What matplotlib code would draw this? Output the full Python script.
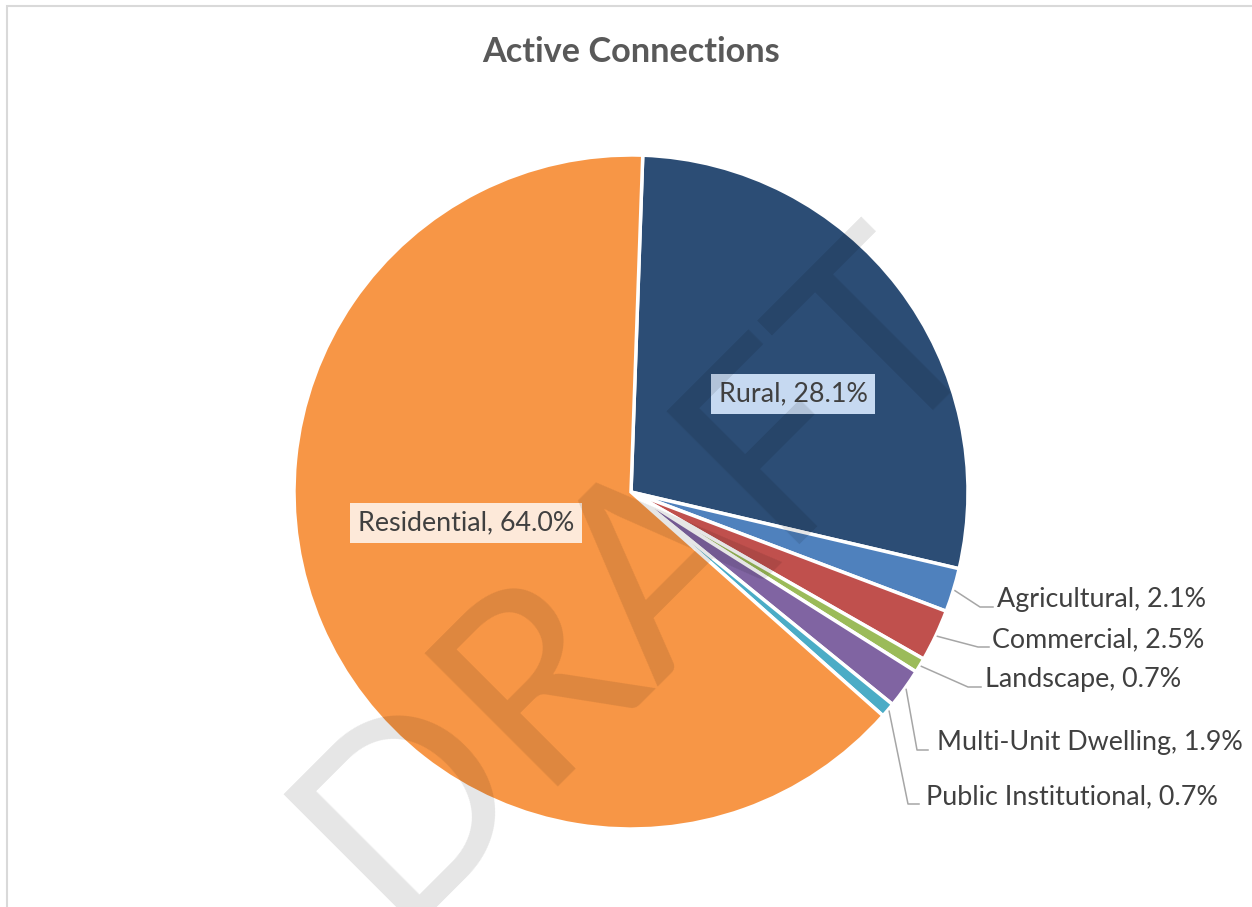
import matplotlib
matplotlib.use("Agg")
import matplotlib.pyplot as plt
from matplotlib.patches import Rectangle
from matplotlib.lines import Line2D
import numpy as np

plt.rcParams['font.family'] = ['Lato', 'DejaVu Sans']

# ---- data ----
categories = ['Rural', 'Agricultural', 'Commercial', 'Landscape',
              'Multi-Unit Dwelling', 'Public Institutional', 'Residential']
values = [28.1, 2.1, 2.5, 0.7, 1.9, 0.7, 64.0]
colors = ['#2c4d75', '#4f81bd', '#c0504d', '#9bbb59', '#8064a2', '#4bacc6', '#f79646']
title = 'Active Connections'
watermark = 'DRAFT'

W, H = 1252, 907
fig = plt.figure(figsize=(W / 100, H / 100), dpi=100)
fig.patch.set_facecolor('white')


def fx(x, y):
    return (x / W, 1 - y / H)


# chart border
fig.patches.append(Rectangle(fx(6.5, 920), (W + 20) / W, (920 - 6.5) / H,
                             transform=fig.transFigure, fill=False,
                             edgecolor='#d9d9d9', linewidth=1.5))

# pie axes
cx, cy, R = 631, 492, 337
ax = fig.add_axes([(cx - R) / W, (H - cy - R) / H, 2 * R / W, 2 * R / H])
wedges, _ = ax.pie(values, colors=colors, startangle=88, counterclock=False,
                   radius=1.0,
                   wedgeprops=dict(edgecolor='white', linewidth=2.5))
ax.set_xlim(-1, 1)
ax.set_ylim(-1, 1)
ax.set_aspect('equal')
ax.axis('off')

text_color = '#404040'
fs = 19.4

# title
fig.text(*fx(631, 62), title, ha='center', va='baseline', fontsize=24.7,
         fontweight='bold', color='#595959')

# inside labels (centre positions in px, background colours)
inside = {
    'Rural': ((793, 394), '#c6d9f1'),
    'Residential': ((466, 523), '#fde9d9'),
}
for cat, ((px_, py_), bg) in inside.items():
    i = categories.index(cat)
    fig.text(*fx(px_, py_), f"{cat}, {values[i]:.1f}%", ha='center', va='center',
             fontsize=fs, color=text_color,
             bbox=dict(boxstyle='square,pad=0.28', fc=bg, ec='none'))

# outside labels: elbow px, end px, text-left px
outside = {
    'Agricultural': ((980, 607), (993, 607), 997),
    'Commercial': ((978, 647), (989, 647), 992),
    'Landscape': ((968, 687), (981, 687), 985),
    'Multi-Unit Dwelling': ((917, 750), (928, 750), 937),
    'Public Institutional': ((908, 804), (919, 804), 926),
}
for cat, (elbow, end, tx) in outside.items():
    i = categories.index(cat)
    w = wedges[i]
    mid = np.deg2rad((w.theta1 + w.theta2) / 2)
    sx, sy = ax.transData.transform((1.005 * np.cos(mid), 1.005 * np.sin(mid)))
    ex, ey = elbow[0], H - elbow[1]
    nx, ny = end[0], H - end[1]
    fig.lines.append(Line2D([sx / W, ex / W, nx / W], [sy / H, ey / H, ny / H],
                            transform=fig.transFigure, color='#a6a6a6',
                            linewidth=1.1))
    fig.text(tx / W, ey / H, f"{cat}, {values[i]:.1f}%", ha='left', va='baseline',
             fontsize=fs, color=text_color)

# watermark
fig.text(*fx(691, 628), watermark, rotation=45, rotation_mode='anchor',
         ha='center', va='baseline', fontsize=189, color='black', alpha=0.1,
         zorder=10)

fig.savefig('out.png', dpi=100, facecolor='white')
